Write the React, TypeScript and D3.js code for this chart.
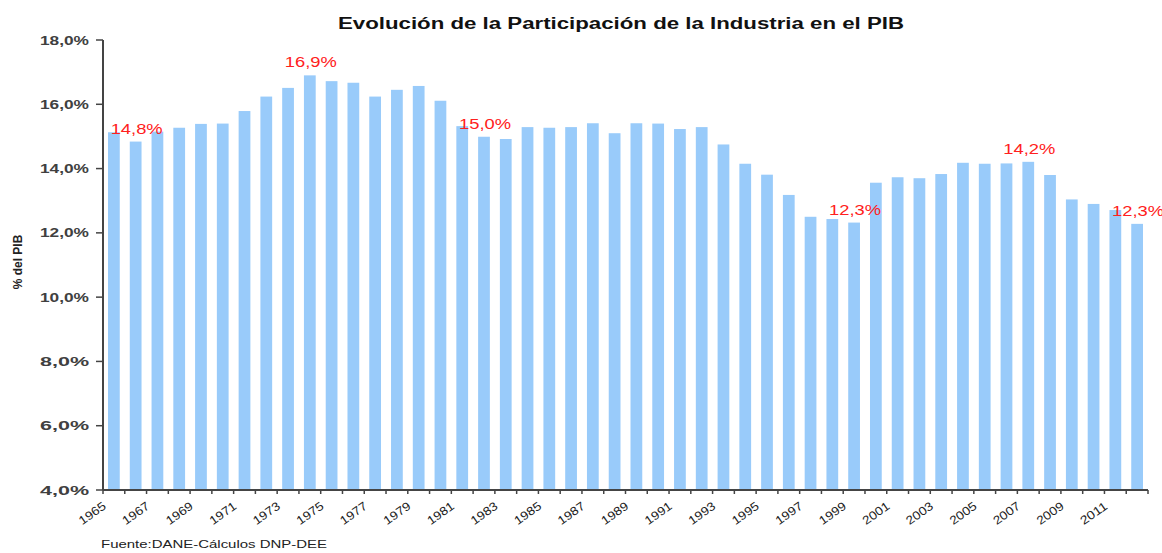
import React from 'react';
import * as d3 from 'd3';

// años y participación de la industria en el PIB (%)
const years = [
  1965, 1966, 1967, 1968, 1969, 1970, 1971, 1972, 1973, 1974, 1975, 1976,
  1977, 1978, 1979, 1980, 1981, 1982, 1983, 1984, 1985, 1986, 1987, 1988,
  1989, 1990, 1991, 1992, 1993, 1994, 1995, 1996, 1997, 1998, 1999, 2000,
  2001, 2002, 2003, 2004, 2005, 2006, 2007, 2008, 2009, 2010, 2011, 2012,
];
const shares = [
  15.13, 14.84, 15.15, 15.27, 15.39, 15.4, 15.79, 16.24, 16.51, 16.9, 16.72, 16.67,
  16.24, 16.45, 16.57, 16.11, 15.32, 14.99, 14.92, 15.29, 15.27, 15.29, 15.41, 15.1,
  15.41, 15.4, 15.23, 15.29, 14.75, 14.15, 13.81, 13.18, 12.5, 12.43, 12.32, 13.56,
  13.73, 13.7, 13.83, 14.18, 14.15, 14.16, 14.21, 13.8, 13.04, 12.9, 12.71, 12.28,
];
const labelYears = [1966, 1974, 1982, 1999, 2007, 2012];
const labelTexts = ['14,8%', '16,9%', '15,0%', '12,3%', '14,2%', '12,3%'];
const yTicks = [4, 6, 8, 10, 12, 14, 16, 18];
const xTickYears = years.filter((y) => y % 2 === 1);

const W = 1162;
const H = 553;
const margin = { top: 40, right: 14, bottom: 63, left: 103 };
const font = '"Liberation Sans", Arial, sans-serif';

export default function App() {
  const x = d3
    .scaleBand<number>()
    .domain(years)
    .range([margin.left, W - margin.right])
    .paddingInner(0.46)
    .paddingOuter(0.23);

  const y = d3
    .scaleLinear()
    .domain([4, 18])
    .range([H - margin.bottom, margin.top]);

  const fmt = (v: number) => v.toFixed(1).replace('.', ',') + '%';
  const step = x.step();
  const y0 = y(4);

  return (
    <svg
      width={W}
      height={H}
      style={{ position: 'absolute', left: 0, top: 0, background: '#fff' }}
      fontFamily={font}
    >
      {/* título */}
      <text
        x={621}
        y={29}
        textAnchor="middle"
        fontSize={16}
        fontWeight="bold"
        fill="#111"
        textLength={566}
        lengthAdjust="spacingAndGlyphs"
      >
        Evolución de la Participación de la Industria en el PIB
      </text>

      {/* barras */}
      {years.map((yr, i) => (
        <rect
          key={yr}
          x={x(yr)}
          y={y(shares[i])}
          width={x.bandwidth()}
          height={y0 - y(shares[i])}
          fill="#99cbfa"
        />
      ))}

      {/* etiquetas rojas */}
      {labelYears.map((yr, i) => {
        const v = shares[years.indexOf(yr)];
        return (
          <text
            key={yr}
            x={(x(yr) as number) + x.bandwidth() / 2 + 1}
            y={y(v) - 8}
            textAnchor="middle"
            fontSize={14}
            fill="#ff2020"
            textLength={52}
            lengthAdjust="spacingAndGlyphs"
          >
            {labelTexts[i]}
          </text>
        );
      })}

      {/* eje y */}
      <line x1={margin.left} x2={margin.left} y1={margin.top} y2={y0} stroke="#444" strokeWidth={2} />
      {yTicks.map((t) => (
        <g key={t} transform={`translate(0,${y(t)})`}>
          <line x1={margin.left - 7} x2={margin.left} stroke="#444" strokeWidth={1.5} />
          <text
            x={89}
            dy="0.35em"
            textAnchor="end"
            fontSize={13}
            fontWeight="bold"
            fill="#404040"
            textLength={49}
            lengthAdjust="spacingAndGlyphs"
          >
            {fmt(t)}
          </text>
        </g>
      ))}
      <text
        transform={`translate(22,262) rotate(-90)`}
        textAnchor="middle"
        fontSize={12}
        fontWeight="bold"
        fill="#222"
      >
        % del PIB
      </text>

      {/* eje x */}
      <line x1={margin.left} x2={W - margin.right} y1={y0} y2={y0} stroke="#444" strokeWidth={2} />
      {years.map((yr) => (
        <line
          key={yr}
          x1={(x(yr) as number) - (step - x.bandwidth()) / 2}
          x2={(x(yr) as number) - (step - x.bandwidth()) / 2}
          y1={y0}
          y2={y0 + 4}
          stroke="#444"
          strokeWidth={1.5}
        />
      ))}
      <line x1={W - margin.right} x2={W - margin.right} y1={y0} y2={y0 + 4} stroke="#444" strokeWidth={1.5} />
      {xTickYears.map((yr) => (
        <text
          key={yr}
          transform={`translate(${(x(yr) as number) + x.bandwidth() / 2 - 7},${y0 + 18}) rotate(-35)`}
          textAnchor="end"
          fontSize={12}
          fill="#222"
          textLength={30}
          lengthAdjust="spacingAndGlyphs"
        >
          {yr}
        </text>
      ))}

      {/* fuente */}
      <text
        x={101}
        y={548}
        fontSize={11}
        fill="#222"
        textLength={226}
        lengthAdjust="spacingAndGlyphs"
      >
        Fuente:DANE-Cálculos DNP-DEE
      </text>
    </svg>
  );
}
